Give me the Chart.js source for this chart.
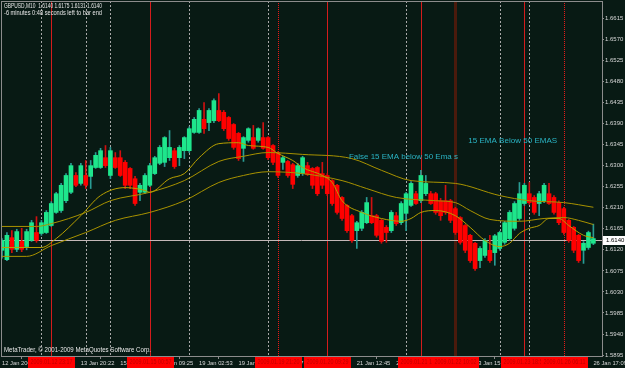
<!DOCTYPE html>
<html><head><meta charset="utf-8">
<script src="https://cdn.jsdelivr.net/npm/chart.js@4"></script>
<style>html,body{margin:0;padding:0;background:#081a14;}canvas{display:block}</style>
</head><body><canvas id="c" width="625" height="368"></canvas>
<script>
// ---- data (GBPUSD, M10) ----
const opens = [1.6119,1.6099,1.6146,1.6121,1.6138,1.6127,1.6140,1.6157,1.6155,1.6157,1.6172,1.6200,1.6204,1.6225,1.6243,1.6279,1.6262,1.6279,1.6277,1.6296,1.6296,1.6317,1.6279,1.6317,1.6317,1.6307,1.6294,1.6272,1.6243,1.6243,1.6258,1.6283,1.6305,1.6307,1.6317,1.6332,1.6317,1.6332,1.6332,1.6371,1.6371,1.6399,1.6392,1.6396,1.6418,1.6414,1.6403,1.6388,1.6369,1.6337,1.6354,1.6360,1.6354,1.6360,1.6360,1.6343,1.6328,1.6307,1.6309,1.6302,1.6279,1.6283,1.6300,1.6294,1.6296,1.6283,1.6279,1.6268,1.6258,1.6232,1.6215,1.6193,1.6161,1.6166,1.6178,1.6193,1.6193,1.6183,1.6168,1.6161,1.6193,1.6178,1.6198,1.6215,1.6240,1.6225,1.6240,1.6240,1.6240,1.6225,1.6225,1.6225,1.6208,1.6189,1.6172,1.6151,1.6134,1.6097,1.6108,1.6119,1.6114,1.6123,1.6136,1.6144,1.6166,1.6187,1.6219,1.6240,1.6232,1.6219,1.6225,1.6240,1.6232,1.6221,1.6208,1.6183,1.6168,1.6151,1.6119,1.6125,1.6134];
const highs = [1.6144,1.6157,1.6161,1.6164,1.6166,1.6164,1.6183,1.6191,1.6183,1.6204,1.6223,1.6243,1.6262,1.6283,1.6305,1.6285,1.6305,1.6311,1.6311,1.6328,1.6337,1.6343,1.6339,1.6328,1.6332,1.6311,1.6296,1.6277,1.6262,1.6283,1.6305,1.6320,1.6343,1.6362,1.6375,1.6337,1.6343,1.6362,1.6383,1.6403,1.6422,1.6435,1.6422,1.6443,1.6454,1.6418,1.6405,1.6390,1.6371,1.6362,1.6381,1.6386,1.6381,1.6392,1.6362,1.6345,1.6330,1.6320,1.6311,1.6305,1.6305,1.6320,1.6307,1.6296,1.6298,1.6307,1.6283,1.6270,1.6260,1.6234,1.6217,1.6196,1.6181,1.6204,1.6232,1.6232,1.6196,1.6185,1.6172,1.6204,1.6200,1.6223,1.6243,1.6266,1.6245,1.6290,1.6279,1.6245,1.6243,1.6230,1.6258,1.6228,1.6211,1.6191,1.6174,1.6153,1.6136,1.6127,1.6144,1.6151,1.6153,1.6160,1.6181,1.6204,1.6223,1.6264,1.6262,1.6264,1.6236,1.6245,1.6262,1.6262,1.6236,1.6225,1.6211,1.6185,1.6170,1.6153,1.6138,1.6160,1.6175];
const lows = [1.6102,1.6097,1.6114,1.6116,1.6116,1.6120,1.6138,1.6136,1.6151,1.6155,1.6170,1.6198,1.6200,1.6221,1.6240,1.6255,1.6258,1.6251,1.6251,1.6294,1.6294,1.6296,1.6272,1.6294,1.6277,1.6251,1.6251,1.6215,1.6225,1.6240,1.6255,1.6281,1.6302,1.6298,1.6311,1.6294,1.6300,1.6315,1.6328,1.6369,1.6369,1.6369,1.6375,1.6392,1.6394,1.6375,1.6354,1.6335,1.6311,1.6309,1.6350,1.6335,1.6350,1.6335,1.6313,1.6302,1.6275,1.6292,1.6275,1.6251,1.6275,1.6279,1.6279,1.6251,1.6236,1.6251,1.6236,1.6215,1.6196,1.6183,1.6157,1.6136,1.6123,1.6161,1.6176,1.6176,1.6147,1.6134,1.6136,1.6157,1.6172,1.6174,1.6161,1.6213,1.6217,1.6221,1.6236,1.6217,1.6196,1.6183,1.6196,1.6178,1.6153,1.6132,1.6114,1.6093,1.6076,1.6082,1.6104,1.6093,1.6087,1.6119,1.6132,1.6140,1.6162,1.6183,1.6215,1.6217,1.6196,1.6193,1.6221,1.6217,1.6196,1.6174,1.6153,1.6136,1.6114,1.6093,1.6091,1.6121,1.6131];
const closes = [1.6140,1.6151,1.6121,1.6159,1.6121,1.6159,1.6178,1.6140,1.6178,1.6200,1.6219,1.6240,1.6258,1.6279,1.6300,1.6258,1.6300,1.6258,1.6300,1.6322,1.6332,1.6300,1.6332,1.6296,1.6279,1.6258,1.6258,1.6219,1.6258,1.6279,1.6300,1.6317,1.6339,1.6360,1.6339,1.6298,1.6339,1.6360,1.6379,1.6399,1.6418,1.6379,1.6418,1.6439,1.6396,1.6379,1.6358,1.6339,1.6315,1.6360,1.6379,1.6337,1.6379,1.6337,1.6317,1.6307,1.6279,1.6317,1.6279,1.6260,1.6300,1.6317,1.6281,1.6258,1.6240,1.6258,1.6240,1.6219,1.6200,1.6187,1.6161,1.6140,1.6178,1.6200,1.6221,1.6178,1.6151,1.6138,1.6157,1.6200,1.6176,1.6219,1.6240,1.6262,1.6219,1.6279,1.6262,1.6219,1.6200,1.6193,1.6200,1.6183,1.6157,1.6136,1.6119,1.6097,1.6080,1.6123,1.6140,1.6097,1.6150,1.6157,1.6178,1.6200,1.6219,1.6240,1.6258,1.6221,1.6200,1.6240,1.6258,1.6219,1.6200,1.6178,1.6157,1.6140,1.6119,1.6097,1.6134,1.6157,1.6144];

// moving averages, read at these bar indices
const fastIdx = [0,8,11,16,20,25,29,30,34,37,40,44,48,50,54,56,59,61,65,67,69,73,77,81,83,85,88,92,95,98,101,103,105,107,109,111,113,115,118,120];
const fastMA  = [1.6125,1.6125,1.6144,1.6193,1.6236,1.6253,1.6247,1.6243,1.6272,1.6283,1.6317,1.6347,1.6349,1.6343,1.6339,1.6326,1.6311,1.6296,1.6279,1.6264,1.6225,1.6200,1.6187,1.6181,1.6187,1.6200,1.6204,1.6193,1.6168,1.6140,1.6127,1.6134,1.6155,1.6166,1.6172,1.6187,1.6187,1.6172,1.6151,1.6146];
const midIdx  = [0,7,10,17,22,30,37,44,49,54,61,71,77,83,92,101,107,114,120];
const midMA   = [1.6170,1.6170,1.6176,1.6200,1.6225,1.6243,1.6268,1.6309,1.6320,1.6328,1.6324,1.6315,1.6290,1.6268,1.6262,1.6236,1.6225,1.6221,1.6211];
const slowIdx = [0,5,10,17,23,30,37,44,49,54,61,69,74,80,88,92,95,99,105,110,114,117,120];
const slowMA  = [1.6106,1.6106,1.6129,1.6157,1.6183,1.6200,1.6225,1.6264,1.6279,1.6287,1.6283,1.6268,1.6251,1.6232,1.6225,1.6221,1.6204,1.6185,1.6181,1.6187,1.6189,1.6183,1.6174];

const yTicks = [1.6615,1.6570,1.6525,1.6480,1.6435,1.6390,1.6345,1.6300,1.6255,1.6210,1.6165,1.6120,1.6075,1.6030,1.5985,1.5940,1.5895];
const xTickIdx = [0,8,16,24,32,40,48,56,64,72,80,88,96,104,112,120];
const xTickLabels = ["12 Jan 2009","13 Jan 05:32","13 Jan 20:22","15 Jan 02:11","16 Jan 09:25","19 Jan 02:53","19 Jan 16:40","20 Jan 07:18","20 Jan 22:04","21 Jan 12:45","22 Jan 03:10","22 Jan 18:21","23 Jan 15:02","26 Jan 02:37","26 Jan 09:55","26 Jan 17:09"];

const currentPrice = 1.6140;
const grayLines = [8,17,22,38,54,82,101,107];
const redLines = [10,30,66,85,106];
const redDotLines = [56,114];
const brownLines = [92];
const redBoxIdx = [10,30,56,66,85,92,106,114];
const redBoxText = ["2009.01.12 23:17","2009.01.15 00:57","2009.01.19 21:20","2009.01.20 09:29","2009.01.21 19:24","2009.01.22 10:02","2009.01.23 18:59","2009.01.26 06:11"];
const notes = [
  {text:"False 15 EMA below 50 Ema s", idx:70.4, price:1.6318, w:109},
  {text:"15 EMA Below 50 EMAS", idx:94.6, price:1.6354, w:89}
];

const BG = '#081a14';
const UP = '#1ee68c', DOWN = '#ff0000';
const FONT = '"Liberation Sans", Arial, sans-serif';

const bars = opens.map((o,i)=>({x:i, y:[o, closes[i]]}));
const wicks = opens.map((o,i)=>({x:i, y:[lows[i], highs[i]]}));
const isUp = opens.map((o,i)=>closes[i] >= o);
const pts = (ix, v) => ix.map((x,k)=>({x, y:v[k]}));

function drawText(ctx, s, x, y, size, color, w, align) {
  ctx.save();
  ctx.font = size + 'px ' + FONT;
  const m = ctx.measureText(s).width;
  ctx.translate(x, y);
  if (w) ctx.scale(w / m, 1);
  ctx.fillStyle = color;
  ctx.textBaseline = 'middle';
  ctx.textAlign = align || 'left';
  ctx.fillText(s, 0, 0);
  ctx.restore();
}

const mt4 = {
  id: 'mt4',
  beforeDraw(chart) {
    const c = chart.ctx;
    c.save(); c.fillStyle = BG; c.fillRect(0, 0, chart.width, chart.height); c.restore();
  },
  beforeDatasetsDraw(chart) {
    const c = chart.ctx, a = chart.chartArea, x = chart.scales.x, y = chart.scales.y;
    c.save();
    c.beginPath(); c.rect(a.left, a.top, a.right - a.left, a.bottom - a.top); c.clip();
    const vline = (i, color, dash, width) => {
      const px = Math.round(x.getPixelForValue(i)) + 0.5;
      c.strokeStyle = color; c.lineWidth = width || 1; c.setLineDash(dash || []);
      c.beginPath(); c.moveTo(px, a.top); c.lineTo(px, a.bottom); c.stroke();
    };
    brownLines.forEach(i => vline(i, '#4a1a0c', [], 3));
    grayLines.forEach(i => vline(i, '#a8a8a8', [2, 2]));
    redLines.forEach(i => vline(i, '#d41c1c'));
    redDotLines.forEach(i => vline(i, '#e81818', [1, 1]));
    const py = Math.round(y.getPixelForValue(currentPrice)) + 0.5;
    c.setLineDash([]); c.strokeStyle = '#c4b8b8'; c.lineWidth = 1;
    c.beginPath(); c.moveTo(a.left, py); c.lineTo(a.right, py); c.stroke();
    c.restore();
  },
  afterDraw(chart) {
    const c = chart.ctx, a = chart.chartArea, x = chart.scales.x, y = chart.scales.y;
    c.save();
    // frame
    c.strokeStyle = '#8c8c8c'; c.lineWidth = 1;
    c.strokeRect(a.left + 0.5, a.top + 0.5, a.right - a.left, a.bottom - a.top);
    // annotations
    notes.forEach(n => drawText(c, n.text, x.getPixelForValue(n.idx), y.getPixelForValue(n.price), 8, '#2ab4c4', n.w));
    // header / footer
    drawText(c, 'GBPUSD,M10  1.6140 1.6175 1.6131 1.6140', 4, 6.5, 7, '#e6e6e6', 98);
    drawText(c, '-6 minutes 0:48 seconds left to bar end', 4, 13.5, 7, '#e6e6e6', 98);
    drawText(c, 'MetaTrader, \u00A9 2001-2009 MetaQuotes Software Corp.', 4, 350.5, 7, '#e6e6e6', 147);
    // red time boxes of the vertical lines
    redBoxIdx.forEach((i, k) => {
      const px = Math.round(x.getPixelForValue(i));
      c.fillStyle = '#ff0000';
      c.fillRect(px - 23, a.bottom + 1, 47, chart.height - a.bottom - 1);
      drawText(c, redBoxText[k], px + 0.5, a.bottom + 6.5, 7, '#c00000', 42, 'center');
    });
    // current price label
    const py = y.getPixelForValue(currentPrice);
    c.fillStyle = '#ffffff';
    c.fillRect(a.right + 1, Math.round(py) - 4, chart.width - a.right - 1, 9);
    drawText(c, currentPrice.toFixed(4), a.right + 4, Math.round(py) + 0.5, 6, '#000000');
    c.restore();
  }
};

new Chart(document.getElementById('c'), {
  type: 'bar',
  data: {
    datasets: [
      {type:'line', data: pts(fastIdx, fastMA), borderColor:'#b8a000', borderWidth:1, pointRadius:0, cubicInterpolationMode:'monotone', order:0},
      {type:'line', data: pts(midIdx, midMA), borderColor:'#a89200', borderWidth:1, pointRadius:0, cubicInterpolationMode:'monotone', order:0},
      {type:'line', data: pts(slowIdx, slowMA), borderColor:'#a89200', borderWidth:1, pointRadius:0, cubicInterpolationMode:'monotone', order:0},
      {data: bars, backgroundColor: isUp.map(u => u ? UP : DOWN), barThickness:4, minBarLength:1, grouped:false, order:1},
      {data: wicks, backgroundColor: isUp.map(u => u ? '#2a9c94' : '#d01010'), barThickness:1, grouped:false, order:2}
    ]
  },
  options: {
    responsive: false, animation: false, devicePixelRatio: 1,
    layout: {padding: {left: 1, top: 1, right: 0, bottom: 0}},
    plugins: {legend: {display: false}, tooltip: {enabled: false}},
    scales: {
      x: {
        type: 'linear', min: -0.2, max: 121.75, offset: false,
        afterBuildTicks: s => { s.ticks = xTickIdx.map(v => ({value: v})); },
        afterFit: s => { s.height = 12; s.paddingLeft = 0; s.paddingRight = 0; },
        grid: {drawOnChartArea: false, tickLength: 3, color: '#8c8c8c'},
        border: {display: false},
        ticks: {autoSkip: false, maxRotation: 0, align: 'start', padding: 1, color: '#d8d8d8',
                font: {size: 5.8, family: FONT},
                callback: (v, k) => xTickLabels[k]}
      },
      y: {
        position: 'right', min: 1.5893, max: 1.6652,
        afterBuildTicks: s => { s.ticks = yTicks.map(v => ({value: v})); },
        afterFit: s => { s.width = 23; s.paddingTop = 0; s.paddingBottom = 0; },
        grid: {drawOnChartArea: false, tickLength: 2, color: '#8c8c8c'},
        border: {display: false},
        ticks: {padding: 1, color: '#d8d8d8', font: {size: 6, family: FONT},
                callback: v => Number(v).toFixed(4)}
      }
    }
  },
  plugins: [mt4]
});
</script>
</body></html>
